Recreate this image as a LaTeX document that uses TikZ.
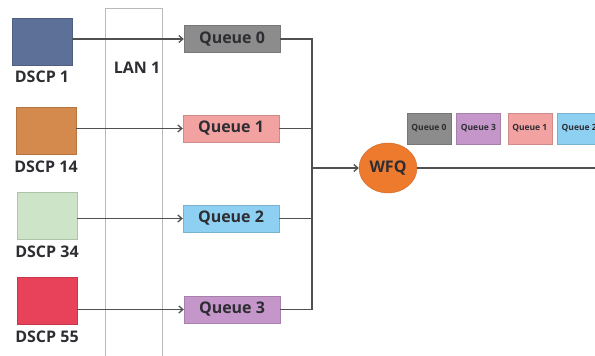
\documentclass[tikz,border=0pt]{standalone}
\usepackage{fontspec}
\setmainfont{Open Sans}
\usetikzlibrary{positioning,arrows.meta,shapes.geometric}

\definecolor{dscpa}{RGB}{92,112,152}
\definecolor{dscpb}{RGB}{212,138,76}
\definecolor{dscpc}{RGB}{206,228,200}
\definecolor{dscpd}{RGB}{232,66,90}
\definecolor{qzero}{RGB}{140,140,140}
\definecolor{qone}{RGB}{243,162,162}
\definecolor{qtwo}{RGB}{142,208,242}
\definecolor{qthree}{RGB}{196,150,202}
\definecolor{wfqorange}{RGB}{238,122,46}
\definecolor{linegray}{RGB}{80,80,80}
\definecolor{txt}{RGB}{45,45,50}

\tikzset{
  dscp/.style={draw=#1!85!black, fill=#1, minimum width=60pt,
    minimum height=47pt, inner sep=0pt},
  queue/.style={draw=#1!85!black, fill=#1, minimum width=96pt,
    minimum height=27pt, inner sep=0pt, text=txt,
    font=\bfseries\fontsize{16}{16}\selectfont},
  slot/.style={draw=#1!85!black, fill=#1, minimum width=44pt,
    minimum height=31pt, inner sep=0pt, text=txt,
    font=\bfseries\fontsize{8.5}{8.5}\selectfont},
  lbl/.style={inner sep=0pt, text=txt,
    font=\bfseries\fontsize{16}{16}\selectfont},
  link/.style={draw=linegray, line width=1.3pt},
  >={Straight Barb[length=4pt,width=7pt]}
}

\begin{document}
\begin{tikzpicture}[x=1pt,y=-1pt]

  \useasboundingbox (0,0) rectangle (595,356);
  \clip (0,0) rectangle (595,356);

  %% LAN column
  \node[draw=gray!55, line width=0.6pt, minimum width=57pt,
    minimum height=354pt, inner sep=0pt] (lan) at (133.5,185) {};
  \node[lbl] (lanlbl) at (137,68) {LAN 1};

  %% DSCP sources
  \node[dscp=dscpa] (d1) at (42,41.5) {};
  \node[dscp=dscpb] (d2) at (46,131) {};
  \node[dscp=dscpc] (d3) at (47,216) {};
  \node[dscp=dscpd] (d4) at (47,301) {};
  \node[lbl, below=6pt of d1] (l1) {DSCP 1};
  \node[lbl, below=6pt of d2] (l2) {DSCP 14};
  \node[lbl, below=6pt of d3] (l3) {DSCP 34};
  \node[lbl, below=6pt of d4] (l4) {DSCP 55};

  %% queues
  \node[queue=qzero]  (q0) at (232,39)    {Queue 0};
  \node[queue=qone]   (q1) at (231,128.5) {Queue 1};
  \node[queue=qtwo]   (q2) at (231,218.5) {Queue 2};
  \node[queue=qthree] (q3) at (232,309.5) {Queue 3};

  %% scheduler
  \node[ellipse, draw=wfqorange!85!black, fill=wfqorange, minimum width=58pt,
    minimum height=50pt, inner sep=0pt, text=txt,
    font=\bfseries\fontsize{16}{16}\selectfont] (wfq) at (388,168) {WFQ};
  \coordinate (bus) at (312,0);
  \coordinate (edge) at (600,0);

  %% source to queue
  \draw[link,->] (q0.west -| d1.east) -- (q0.west);
  \draw[link,->] (q1.west -| d2.east) -- (q1.west);
  \draw[link,->] (q2.west -| d3.east) -- (q2.west);
  \draw[link,->] (q3.west -| d4.east) -- (q3.west);

  %% queue to scheduler
  \draw[link] (q0.east) -- (q0.east -| bus) -- (q3.east -| bus) -- (q3.east);
  \draw[link] (q1.east) -- (q1.east -| bus);
  \draw[link] (q2.east) -- (q2.east -| bus);
  \draw[link,->] (wfq.west -| bus) -- (wfq.west);
  \draw[link] (wfq.east) -- (wfq.east -| edge);

  %% output order
  \node[slot=qzero]  (s0) at (429,128.5) {Queue 0};
  \node[slot=qthree, right=5pt of s0] (s3) {Queue 3};
  \node[slot=qone,   right=7pt of s3] (s1) {Queue 1};
  \node[slot=qtwo,   right=5pt of s1] (s2) {Queue 2};

\end{tikzpicture}
\end{document}
